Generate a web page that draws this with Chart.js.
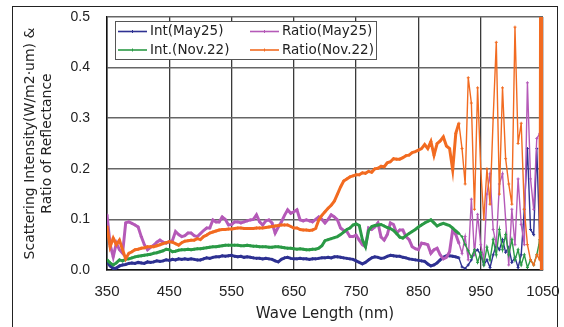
<!DOCTYPE html>
<html><head><meta charset="utf-8">
<script src="https://cdn.jsdelivr.net/npm/chart.js@4/dist/chart.umd.min.js"></script>
<style>html,body{margin:0;padding:0;background:#fff;}canvas{display:block;}</style>
</head><body>
<canvas id="c" width="564" height="327"></canvas>
<script>
// Wavelength grid (nm)
const wavelengths = [
350,355,360,365,370,375,380,385,390,395,
400,405,410,415,420,425,430,435,440,445,
450,455,460,465,470,475,480,485,490,495,
500,505,510,515,520,525,530,535,540,545,
550,555,560,565,570,575,580,585,590,595,
600,605,610,615,620,625,630,635,640,645,
650,655,660,665,670,675,680,685,690,695,
700,705,710,715,720,725,730,735,740,745,
750,755,760,765,770,775,780,785,790,795,
800,805,810,815,820,825,830,835,840,845,
850,855,860,865,870,875,880,885,890,895,
900,905,910,915,920,925,930,935,940,945,
950,955,960,965,970,975,980,985,990,995,
1000,1005,1010,1015,1020,1025,1030,1035,1040,1045,
1046,1047,1048,1049,1050];

const intMay25 = [
0.016,0.008,0.003,0.004,0.008,0.010,0.011,0.013,0.014,0.013,
0.015,0.014,0.013,0.016,0.015,0.016,0.018,0.017,0.018,0.020,
0.019,0.021,0.020,0.022,0.021,0.022,0.021,0.022,0.021,0.020,
0.020,0.022,0.024,0.023,0.025,0.026,0.026,0.028,0.027,0.028,
0.029,0.027,0.026,0.027,0.025,0.026,0.025,0.024,0.023,0.023,
0.022,0.023,0.022,0.021,0.018,0.016,0.021,0.024,0.025,0.023,
0.022,0.022,0.023,0.022,0.022,0.021,0.022,0.022,0.023,0.024,
0.024,0.025,0.024,0.026,0.026,0.025,0.024,0.023,0.022,0.021,
0.018,0.015,0.012,0.015,0.020,0.024,0.026,0.025,0.023,0.024,
0.027,0.029,0.028,0.027,0.027,0.025,0.024,0.022,0.021,0.020,
0.019,0.018,0.017,0.012,0.008,0.010,0.014,0.020,0.025,0.028,
0.028,0.027,0.026,0.024,0.006,0.003,0.010,0.020,0.035,0.040,
0.030,0.010,0.020,0.005,0.030,0.050,0.040,0.060,0.035,0.045,
0.015,0.025,0.005,0.030,0.120,0.240,0.080,0.070,0.240,0.050,
0.030,0.020,0.030,0.020,0.030];

const ratioMay25 = [
0.109,0.050,0.026,0.053,0.040,0.033,0.093,0.095,0.092,0.089,
0.085,0.066,0.050,0.040,0.045,0.049,0.055,0.059,0.055,0.053,
0.056,0.058,0.076,0.070,0.066,0.068,0.073,0.073,0.068,0.066,
0.072,0.078,0.083,0.083,0.099,0.095,0.095,0.105,0.100,0.089,
0.090,0.095,0.095,0.093,0.095,0.097,0.099,0.100,0.109,0.095,
0.089,0.097,0.099,0.093,0.073,0.085,0.095,0.108,0.119,0.112,
0.115,0.119,0.099,0.097,0.099,0.097,0.095,0.100,0.105,0.100,
0.093,0.100,0.109,0.105,0.099,0.083,0.078,0.076,0.066,0.066,
0.069,0.059,0.050,0.046,0.083,0.080,0.085,0.093,0.065,0.059,
0.070,0.093,0.090,0.073,0.079,0.079,0.066,0.060,0.046,0.042,
0.040,0.053,0.052,0.050,0.033,0.040,0.043,0.030,0.022,0.025,
0.036,0.079,0.070,0.053,0.033,0.066,0.020,0.140,0.030,0.110,
0.050,0.020,0.150,0.190,0.080,0.050,0.170,0.190,0.100,0.010,
0.120,0.050,0.180,0.090,0.050,0.370,0.180,0.120,0.260,0.270,
0.100,0.030,0.060,0.030,0.040];

const intNov22 = [
0.020,0.014,0.010,0.014,0.020,0.018,0.021,0.022,0.024,0.026,
0.027,0.028,0.029,0.030,0.031,0.033,0.034,0.036,0.038,0.041,
0.040,0.036,0.037,0.039,0.040,0.040,0.041,0.040,0.041,0.042,
0.042,0.043,0.044,0.045,0.046,0.046,0.047,0.048,0.049,0.049,
0.049,0.049,0.049,0.048,0.048,0.049,0.048,0.047,0.047,0.046,
0.046,0.046,0.045,0.045,0.046,0.046,0.045,0.044,0.043,0.043,
0.042,0.041,0.042,0.041,0.040,0.040,0.041,0.041,0.043,0.048,
0.058,0.060,0.062,0.064,0.066,0.070,0.075,0.080,0.083,0.089,
0.091,0.088,0.060,0.046,0.078,0.086,0.088,0.089,0.090,0.087,
0.084,0.082,0.078,0.072,0.065,0.063,0.068,0.072,0.076,0.080,
0.085,0.089,0.093,0.096,0.099,0.093,0.087,0.090,0.092,0.090,
0.088,0.083,0.077,0.072,0.066,0.050,0.038,0.025,0.040,0.015,
0.035,0.010,0.045,0.020,0.060,0.030,0.080,0.040,0.070,0.030,
0.060,0.020,0.040,0.010,0.030,0.005,0.020,0.010,0.030,0.060,
0.040,0.050,0.030,0.050,0.040];

const ratioNov22 = [
0.086,0.046,0.063,0.050,0.059,0.040,0.022,0.033,0.036,0.040,
0.041,0.043,0.044,0.046,0.046,0.046,0.048,0.050,0.052,0.054,
0.056,0.055,0.052,0.049,0.054,0.057,0.058,0.059,0.059,0.062,
0.060,0.066,0.069,0.073,0.075,0.077,0.079,0.080,0.080,0.081,
0.081,0.082,0.083,0.083,0.082,0.082,0.082,0.082,0.083,0.083,
0.083,0.084,0.085,0.086,0.087,0.088,0.089,0.089,0.089,0.086,
0.083,0.083,0.080,0.079,0.079,0.078,0.079,0.082,0.099,0.108,
0.115,0.122,0.128,0.136,0.150,0.164,0.176,0.180,0.184,0.186,
0.188,0.188,0.192,0.191,0.195,0.193,0.200,0.201,0.205,0.204,
0.212,0.214,0.220,0.219,0.219,0.222,0.226,0.227,0.232,0.234,
0.237,0.240,0.248,0.240,0.254,0.227,0.250,0.255,0.263,0.245,
0.240,0.198,0.270,0.290,0.240,0.170,0.380,0.330,0.120,0.360,
0.200,0.100,0.200,0.130,0.300,0.450,0.150,0.360,0.220,0.170,
0.130,0.480,0.250,0.290,0.120,0.050,0.020,0.010,0.030,0.020,
0.800,0.000,0.800,0.000,0.800];

const seriesLabels = ['Int(May25)','Ratio(May25)','Int.(Nov.22)','Ratio(Nov.22)'];
const seriesColors = ['#2e3192','#b55ab8','#2b9a46','#f26b21'];
const seriesValues = [intMay25, ratioMay25, intNov22, ratioNov22];
const drawOrder = [3, 2, 1, 0];
const xTicks = [350,450,550,650,750,850,950,1050];
const yTicks = [0.0,0.1,0.2,0.3,0.4,0.5];

const datasets = seriesValues.map((vals, i) => ({
  label: seriesLabels[i],
  data: wavelengths.map((w, j) => ({x: w, y: vals[j]})),
  borderColor: seriesColors[i],
  backgroundColor: seriesColors[i],
  pointStyle: 'cross',
  pointRadius: 1.5,
  pointBorderWidth: 1,
  pointBorderColor: seriesColors[i],
  borderWidth: 3,
  order: drawOrder[i],
  tension: 0,
  segment: { borderWidth: ctx => ctx.p0.parsed.x >= 1045 ? 2.5 : (ctx.p0.parsed.x >= 915 ? 1.4 : 3) }
}));

const legendBox = {
  id: 'legendBox',
  afterDraw(chart) {
    const c = chart.ctx;
    c.save();
    c.fillStyle = '#fff';
    c.fillRect(115, 21, 261, 38);
    c.strokeStyle = '#555';
    c.lineWidth = 1;
    c.strokeRect(115.5, 21.5, 261, 38);
    const cols = [118, 250];
    const rows = [31.5, 50];
    c.font = '13.5px "DejaVu Sans"';
    c.textBaseline = 'middle';
    seriesLabels.forEach((lab, i) => {
      const cx = cols[i % 2], cy = rows[Math.floor(i / 2)];
      c.strokeStyle = seriesColors[i];
      c.lineWidth = 1.6;
      c.beginPath(); c.moveTo(cx, cy); c.lineTo(cx + 29, cy); c.stroke();
      c.lineWidth = 1;
      c.beginPath(); c.moveTo(cx + 14.5, cy - 1.5); c.lineTo(cx + 14.5, cy + 1.5); c.stroke();
      c.fillStyle = '#222';
      c.fillText(lab, cx + 32, cy);
    });
    c.restore();
  }
};

const frame = {
  id: 'frame',
  afterDraw(chart) {
    const c = chart.ctx;
    c.save();
    c.strokeStyle = '#222';
    c.lineWidth = 1;
    c.strokeRect(12.5, 6.5, 545, 340);
    c.restore();
  }
};

new Chart(document.getElementById('c'), {
  type: 'line',
  data: { datasets },
  options: {
    responsive: false,
    animation: false,
    layout: { padding: { top: 17, right: 21, left: 0, bottom: 0 } },
    plugins: { legend: { display: false }, tooltip: { enabled: false } },
    scales: {
      x: {
        type: 'linear', min: 350, max: 1050,
        afterBuildTicks: s => { s.ticks = xTicks.map(v => ({value: v})); },
        afterFit: s => { s.height = 57; s.paddingLeft = 0; s.paddingRight = 0; },
        ticks: { padding: 13, color: '#222', font: { family: '"Liberation Sans"', size: 15 }, maxRotation: 0, callback: v => String(v) },
        grid: { color: '#3a3a3a', lineWidth: 1.3, drawTicks: false },
        border: { color: '#111', width: 1.5 },
        title: { display: true, text: 'Wave Length (nm)', color: '#222', font: { family: '"DejaVu Sans"', size: 15 }, padding: { top: 0, bottom: 4 } }
      },
      y: {
        min: 0, max: 0.5,
        afterBuildTicks: s => { s.ticks = yTicks.map(v => ({value: v})); },
        afterFit: s => { s.width = 107; s.paddingTop = 0; s.paddingBottom = 0; },
        ticks: { padding: 17, color: '#222', font: { family: '"Liberation Sans"', size: 14 }, callback: v => Number(v).toFixed(1) },
        grid: { color: '#666', lineWidth: 1.6, drawTicks: false },
        border: { color: '#111', width: 1.5 },
        title: { display: true, text: ['Scattering Intensity(W/m2·um) &', 'Ratio of Reflectance'], color: '#222', font: { family: '"DejaVu Sans"', size: 14 }, padding: { top: 22, bottom: 0 } }
      }
    }
  },
  plugins: [legendBox, frame]
});
</script>
</body></html>
